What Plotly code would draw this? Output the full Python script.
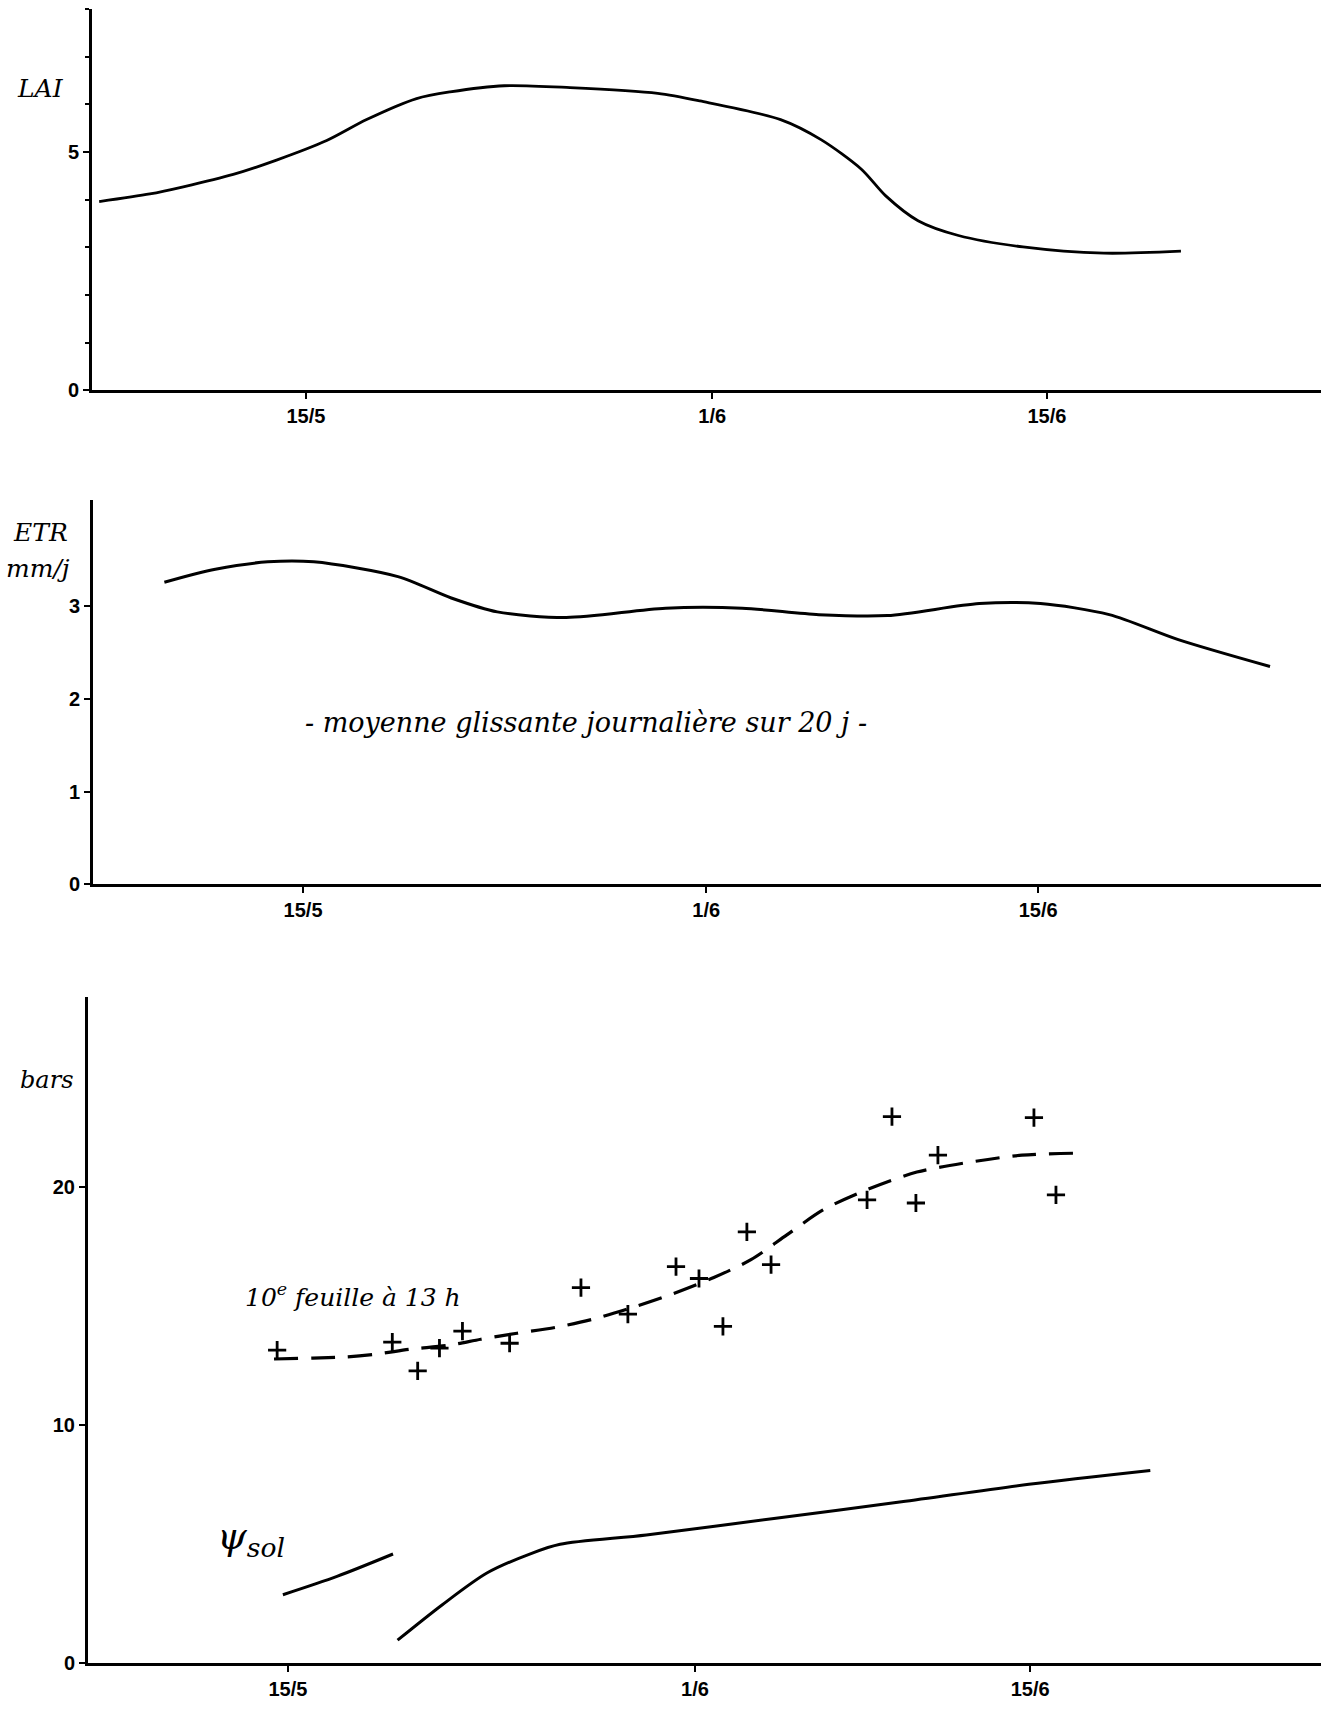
import plotly.graph_objects as go
import pandas as pd

W, H = 1333, 1719

# ---------------- data (day counted from 30 April: 15 -> 15/5, 32 -> 1/6, 46 -> 15/6)
tick_days = [15, 32, 46]
tick_text = ["15/5", "1/6", "15/6"]

lai_day = [6.35, 8.47, 9.87, 11.96, 13.77, 15.87, 17.54, 19.63, 21.03, 23.3, 26.05,
           29.72, 31.49, 34.86, 36.55, 38.24, 39.26, 40.61, 42.3, 45.0, 48.38, 51.61]
lai_val = [3.96, 4.12, 4.27, 4.53, 4.83, 5.24, 5.68, 6.12, 6.26, 6.39, 6.35,
           6.23, 6.07, 5.68, 5.26, 4.64, 4.08, 3.56, 3.25, 3.01, 2.88, 2.92]

etr_day = [9.15, 11.3, 13.51, 15.45, 19.0, 21.25, 23.19, 26.1, 30.29, 33.52, 36.75,
           39.65, 43.52, 46.1, 49.0, 51.91, 55.78]
etr_val = [3.26, 3.40, 3.48, 3.48, 3.32, 3.09, 2.94, 2.88, 2.98, 2.98, 2.91,
           2.90, 3.03, 3.03, 2.91, 2.64, 2.35]

leaf_fit_day = [14.42, 16.04, 17.34, 18.72, 20.10, 21.73, 23.06, 24.57, 26.19, 27.74, 29.41,
                31.0, 32.79, 34.34, 35.84, 37.35, 39.14, 41.27, 43.45, 45.66, 47.79]
leaf_fit_val = [12.78, 12.82, 12.86, 12.99, 13.19, 13.36, 13.61, 13.86, 14.11, 14.45, 14.95,
                15.49, 16.2, 16.95, 17.99, 19.04, 19.87, 20.63, 21.04, 21.34, 21.42]

leaf_obs_day = [14.55, 19.36, 20.42, 21.33, 22.29, 24.26, 27.24, 29.2, 31.21, 32.17,
                33.17, 34.17, 35.18, 39.19, 40.23, 41.23, 42.15, 46.16, 47.08]
leaf_obs_val = [13.15, 13.49, 12.28, 13.24, 13.95, 13.44, 15.78, 14.66, 16.66, 16.16,
                14.15, 18.12, 16.74, 19.46, 22.96, 19.33, 21.34, 22.92, 19.67]

soil1_day = [14.79, 17.05, 19.39]
soil1_val = [2.88, 3.65, 4.59]
soil2_day = [19.58, 21.45, 23.31, 25.18, 26.37, 29.97, 35.3, 40.63, 45.95, 51.02]
soil2_val = [0.97, 2.46, 3.79, 4.62, 5.0, 5.39, 6.08, 6.78, 7.52, 8.1]

BASE = pd.Timestamp("1980-04-30")


def to_date(days):
    return [(BASE + pd.Timedelta(days=d)).strftime("%Y-%m-%d %H:%M:%S") for d in days]


def fx(px):
    return px / W


def fy(py):
    return 1 - py / H


SERIF = "DejaVu Serif"
TICKFONT = dict(family="Liberation Sans Narrow, Liberation Sans, Arial", size=20, color="black")

fig = go.Figure()

fig.add_trace(go.Scatter(x=to_date(lai_day), y=lai_val, mode="lines",
                         line=dict(color="black", width=2.8, shape="spline", smoothing=0.8),
                         xaxis="x", yaxis="y", showlegend=False))
fig.add_trace(go.Scatter(x=to_date(etr_day), y=etr_val, mode="lines",
                         line=dict(color="black", width=3, shape="spline", smoothing=0.8),
                         xaxis="x2", yaxis="y2", showlegend=False))
fig.add_trace(go.Scatter(x=to_date(leaf_fit_day), y=leaf_fit_val, mode="lines",
                         line=dict(color="black", width=3.2, shape="spline", smoothing=0.8,
                                   dash="24px,13px"),
                         xaxis="x3", yaxis="y3", showlegend=False))
fig.add_trace(go.Scatter(x=to_date(leaf_obs_day), y=leaf_obs_val, mode="markers",
                         marker=dict(symbol="cross-thin", size=13,
                                     line=dict(color="black", width=2.8)),
                         xaxis="x3", yaxis="y3", showlegend=False))
fig.add_trace(go.Scatter(x=to_date(soil1_day), y=soil1_val, mode="lines",
                         line=dict(color="black", width=3, shape="spline", smoothing=0.8),
                         xaxis="x3", yaxis="y3", showlegend=False))
fig.add_trace(go.Scatter(x=to_date(soil2_day), y=soil2_val, mode="lines",
                         line=dict(color="black", width=3, shape="spline", smoothing=0.8),
                         xaxis="x3", yaxis="y3", showlegend=False))

# panel geometry in pixels: (left, right, top, bottom, x-range in days)
panels = [
    dict(left=92, right=1321, top=9, bottom=393, xr=[6.05, 57.47]),
    dict(left=93, right=1321, top=503, bottom=890, xr=[6.14, 57.93]),
    dict(left=88, right=1321, top=1003, bottom=1674, xr=[6.65, 58.15]),
]
yranges = [[0, 8], [0, 4.15], [0, 28]]
yticks = [[0, 5], [0, 1, 2, 3], [0, 10, 20]]

layout = dict(width=W, height=H, margin=dict(l=0, r=0, t=0, b=0),
              paper_bgcolor="white", plot_bgcolor="white", showlegend=False)

for i, p in enumerate(panels):
    sfx = "" if i == 0 else str(i + 1)
    xa = dict(domain=[fx(p["left"]), fx(p["right"])],
              range=to_date(p["xr"]), type="date",
              anchor="y" + sfx,
              showline=True, linecolor="black", linewidth=3,
              showgrid=False, zeroline=False,
              ticks="outside", ticklen=6, tickwidth=2, tickcolor="black",
              tickmode="array", tickvals=to_date(tick_days),
              ticktext=["<b>%s</b>" % t for t in tick_text],
              tickfont=TICKFONT)
    ya = dict(domain=[fy(p["bottom"]), fy(p["top"])],
              range=yranges[i], anchor="x" + sfx,
              showline=True, linecolor="black", linewidth=3,
              showgrid=False, zeroline=False,
              ticks="outside", ticklen=6, tickwidth=2, tickcolor="black",
              tickmode="array", tickvals=yticks[i],
              ticktext=["<b>%d</b>" % v for v in yticks[i]],
              tickfont=TICKFONT)
    if i == 0:
        ya["minor"] = dict(dtick=1, ticks="outside", ticklen=4, tickwidth=1.5, tickcolor="black")
    layout["xaxis" + sfx] = xa
    layout["yaxis" + sfx] = ya

fig.update_layout(**layout)


def label(text, px, py, size=25, xanchor="center", italic=True):
    fig.add_annotation(text=text, x=fx(px), y=fy(py), xref="paper", yref="paper",
                       showarrow=False, xanchor=xanchor, yanchor="middle",
                       font=dict(family=SERIF, size=size, color="black",
                                 style="italic" if italic else "normal"))


label("LAI", 40, 89, size=25)
label("ETR", 40, 536, size=25)
label("mm/j", 38, 572, size=25)
label("bars", 46, 1087, size=24)
label("- moyenne glissante journalière sur 20 j -", 586, 727, size=27)
label("10<sup>e</sup> feuille à 13 h", 243, 1304, size=25, xanchor="left")
label("ψ<sub>sol</sub>", 215, 1548, size=38, xanchor="left")

fig.write_html("out.html")
